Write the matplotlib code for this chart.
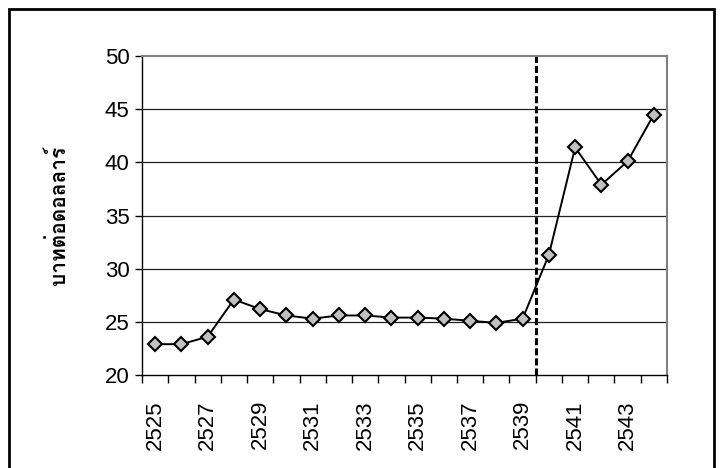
import matplotlib
matplotlib.use("Agg")
import matplotlib.pyplot as plt
from matplotlib import font_manager
from matplotlib.ft2font import FT2Font
from matplotlib.patches import Rectangle

# baht per US dollar, Thai calendar years
years = [str(y) for y in range(2525, 2545)]
rate = [22.9, 22.9, 23.6, 27.1, 26.2, 25.6, 25.3, 25.6, 25.6, 25.4,
        25.4, 25.3, 25.1, 24.9, 25.3, 31.3, 41.4, 37.9, 40.1, 44.5]
y_ticks = [20, 25, 30, 35, 40, 45, 50]
y_label = "บาทต่อดอลลาร์"
break_year = 2540  # float of the baht, dashed line drawn before this year


def thai_fonts():
    found = []
    for f in font_manager.fontManager.ttflist:
        try:
            if FT2Font(f.fname).get_char_index(0x0E1A):
                found.append(f.name)
        except Exception:
            pass
    return found


label_family = thai_fonts()[:1] + ["DejaVu Sans"]
plt.rcParams["font.family"] = ["Liberation Sans", "DejaVu Sans"]

fig = plt.figure(figsize=(7.22, 4.68), dpi=100)
fig.patches.append(Rectangle((9 / 722, -0.05), 705 / 722, 1.05 - 9 / 468,
                             transform=fig.transFigure, fill=False,
                             edgecolor="black", linewidth=2))

ax = fig.add_axes([0.1967, 0.1987, 0.7271, 0.6816])
x = list(range(len(years)))

for v in y_ticks[1:-1]:
    ax.axhline(v, color="#222222", linewidth=0.9, zorder=1)

ax.plot(x, rate, color="black", linewidth=1.4, marker="D", markersize=7.5,
        markerfacecolor="#c0c0c0", markeredgecolor="black",
        markeredgewidth=1.5, zorder=3)

bx = years.index(str(break_year)) - 0.5
ax.axvline(bx, color="black", linewidth=2.2, dashes=(2.3, 1.0), zorder=2)

ax.set_xlim(-0.5, len(years) - 0.5)
ax.set_ylim(20, 50)
ax.set_yticks(y_ticks)
ax.tick_params(axis="y", labelsize=16, length=5, width=1, direction="out",
               pad=4)

ax.set_xticks([i - 0.5 for i in range(len(years) + 1)])
ax.set_xticklabels([])
ax.tick_params(axis="x", which="major", length=6, width=1, direction="out")
ax.set_xticks(x[::2], minor=True)
ax.set_xticklabels(years[::2], minor=True, rotation=90, fontsize=16)
ax.tick_params(axis="x", which="minor", length=0, pad=18)

ax.set_ylabel(y_label, family=label_family, fontsize=15, fontweight="bold",
              labelpad=26)

for side in ("top", "right"):
    ax.spines[side].set_color("#808080")
    ax.spines[side].set_linewidth(1.5)
for side in ("left", "bottom"):
    ax.spines[side].set_color("black")
    ax.spines[side].set_linewidth(1)

fig.savefig("out.png", dpi=100)
